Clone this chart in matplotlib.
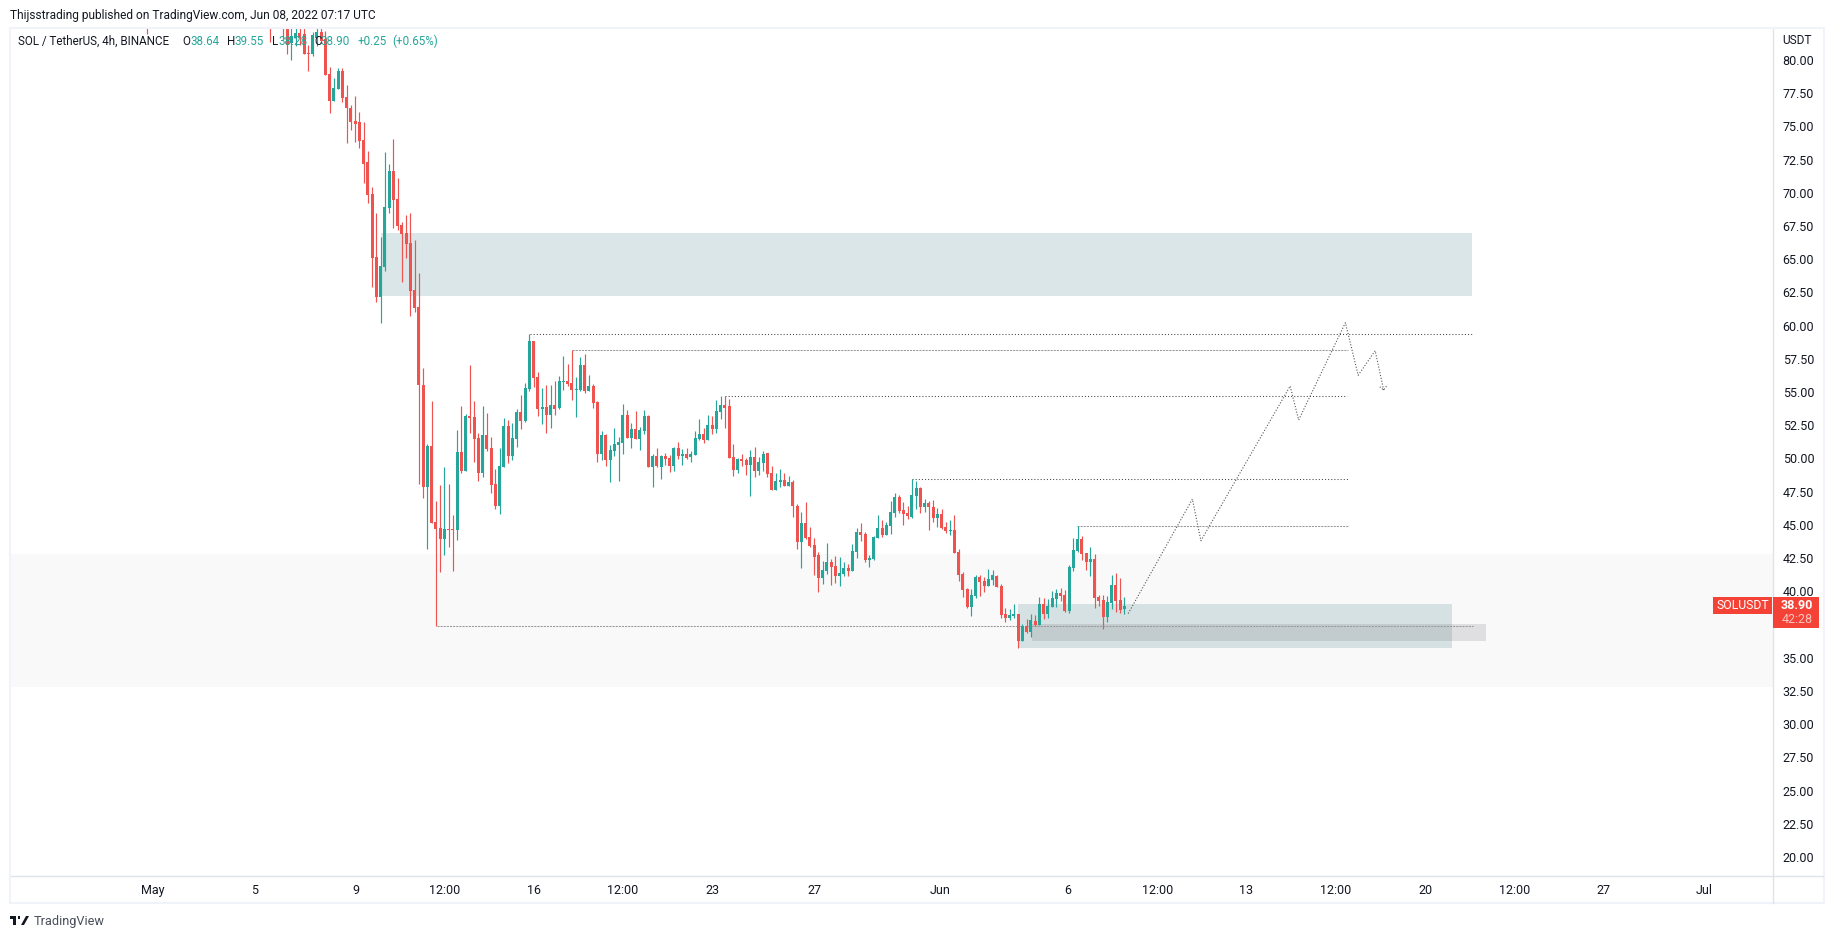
import matplotlib
matplotlib.use("Agg")
import matplotlib.pyplot as plt
from matplotlib.patches import Rectangle, Polygon
import numpy as np

FONT = "Roboto"
plt.rcParams["font.family"] = [FONT, "DejaVu Sans"]

nan = float("nan")
# 4h candles, oldest to newest; nan = candle entirely above the visible price range
opens = [84.0] + [nan]*28 + [83.5, nan, nan, 83.5, 83.0, 81.26, 81.63, 82.03, 81.96, 80.53, 80.45, 81.63, 82.11, 81.56,
 78.95, 76.91, 77.82, 79.17, 77.19, 76.36, 75.41, 75.33, 73.98, 72.29, 69.91, 65.17, 62.18, 64.44, 68.88, 71.64, 69.53,
 67.58, 66.95, 66.22, 62.68, 61.40, 55.53, 47.85, 50.94, 45.22, 44.77, 43.94, 44.69, 44.69, 44.62, 50.49, 49.06, 53.20,
 53.12, 51.54, 48.91, 51.77, 50.79, 48.08, 46.42, 49.36, 52.44, 50.19, 51.47, 53.50, 52.82, 55.23, 58.84, 56.13, 53.72,
 53.87, 53.27, 54.02, 53.80, 55.76, 55.83, 55.68, 55.15, 55.15, 57.04, 55.08, 55.46, 54.25, 50.34, 51.77, 49.89, 50.56,
 51.01, 51.16, 53.27, 51.54, 52.22, 51.47, 52.07, 53.20, 49.36, 50.19,
 49.36, 50.19, 50.04, 49.44, 50.79, 50.19, 50.34, 50.11, 50.26, 51.47, 51.84, 51.39, 52.52, 52.22, 53.50, 54.03, 53.95,
 50.11, 49.13, 49.96, 49.89, 49.51, 50.11, 49.06, 49.66, 50.41, 48.91, 47.63, 48.23, 48.38, 47.93, 48.23, 46.42, 43.71,
 45.15, 44.09, 43.49, 42.74, 41.00, 41.53, 42.21, 41.91, 41.15, 41.31, 41.76, 41.53, 42.96, 44.47, 44.32, 42.36, 42.43,
 44.02, 44.77, 44.24, 44.92, 45.90, 47.10, 46.12, 45.90, 45.60, 47.18, 47.78, 46.35, 46.65, 46.35, 45.52, 45.82, 44.84,
 44.54, 44.62, 42.96, 41.31, 40.18, 38.82, 39.65, 41.08, 40.78, 40.40, 40.85, 41.15, 40.40, 38.29, 37.99, 38.14, 38.29,
 36.26, 37.39, 36.94, 37.77, 37.47, 39.05, 38.29, 38.82, 39.42, 39.87, 39.72, 38.52, 41.76, 43.04, 43.94, 42.89, 42.21,
 42.43, 39.57, 39.35, 38.07, 39.12, 40.48, 39.35, 38.64]
highs = [85.0] + [nan]*28 + [84.0, nan, nan, 84.0, 84.0, 83.5, 83.0, 83.0, 83.0, 81.13, 82.11, 83.0, 83.0, 82.18,
 79.47, 78.65, 79.40, 79.40, 78.12, 76.61, 77.29, 76.06, 75.31, 73.15, 70.46, 68.48, 66.67, 73.07, 72.17, 74.05, 71.12,
 67.80, 68.33, 68.48, 66.45, 63.96, 56.81, 51.09, 54.33, 46.80, 48.00, 49.36, 48.08, 45.74, 52.14, 53.95, 53.35, 57.04,
 54.33, 51.92, 53.95, 53.42, 51.62, 49.21, 50.79, 53.05, 52.90, 52.67, 53.72, 54.78, 55.68, 59.37, 58.84, 56.51, 55.30,
 55.53, 55.53, 55.83, 56.21, 57.71, 57.11, 58.20, 56.13, 57.64, 57.86, 56.28, 55.61, 54.33, 52.07, 51.84, 51.01, 52.29,
 51.62, 54.10, 53.65, 52.67, 53.57, 52.37, 53.65, 53.27, 50.34, 50.79,
 50.26, 50.41, 50.26, 50.87, 51.24, 50.72, 50.79, 50.56, 52.07, 52.97, 52.30, 53.27, 53.20, 54.40, 54.71, 54.71, 54.48,
 51.09, 50.04, 50.34, 50.04, 50.64, 50.87, 50.11, 50.56, 50.41, 49.44, 48.91, 49.21, 48.91, 48.68, 48.38, 46.58,
 45.97, 46.73, 44.84, 44.02, 42.96, 42.28, 43.64, 42.43, 42.66, 42.58, 42.21, 42.06, 43.56, 44.77, 45.15, 44.47, 42.74,
 44.17, 45.75, 45.37, 45.22, 46.80, 47.40, 47.25, 46.73, 46.42, 48.46, 48.31, 47.86, 46.95, 46.80, 46.88, 46.27, 46.20,
 45.22, 45.37, 45.75, 43.19, 41.46, 40.25, 40.18, 41.23, 41.23, 41.08, 41.68, 41.61, 41.23, 40.55, 38.75, 38.67, 39.05,
 38.29, 37.54, 37.92, 38.29, 38.22, 39.57, 39.50, 39.42, 40.03, 40.18, 40.25, 40.10, 41.98, 44.02, 44.92, 44.17, 42.89,
 43.34, 42.81, 39.72, 39.72, 39.65, 41.23, 41.38, 41.00, 39.55]
lows = [81.99] + [nan]*28 + [81.38, nan, nan, 81.56, 80.43, 80.03, 81.05, 81.13, 80.45, 79.17, 80.30, 81.05, 81.30, 78.87,
 76.00, 76.91, 77.82, 76.84, 73.78, 74.73, 73.85, 73.40, 70.76, 69.26, 62.93, 61.81, 60.22, 64.14, 68.51, 67.38, 67.23,
 63.31, 65.12, 60.75, 61.05, 48.08, 47.02, 43.18, 45.14, 37.36, 41.45, 42.73, 43.34, 41.53, 43.86, 48.91, 49.06, 51.92,
 49.73, 48.30, 48.61, 50.56, 47.40, 46.20, 45.82, 49.36, 49.66, 49.89, 50.86, 52.22, 52.75, 55.08, 55.38, 53.20, 52.60,
 51.92, 52.29, 53.27, 53.72, 55.15, 55.46, 54.40, 53.12, 55.08, 54.93, 55.08, 53.80, 49.73, 49.89, 49.43, 48.23, 50.19,
 48.30, 50.34, 51.54, 50.79, 51.47, 50.64, 51.84, 49.36, 47.85, 49.36,
 48.46, 49.51, 48.98, 49.06, 49.96, 49.51, 49.96, 49.74, 50.26, 51.39, 51.17, 51.39, 51.84, 51.92, 52.97, 52.30, 50.04,
 48.68, 48.91, 49.44, 48.76, 47.18, 48.61, 48.76, 49.06, 48.61, 47.63, 47.63, 47.86, 47.93, 47.93, 45.60, 43.19,
 41.76, 43.94, 43.34, 41.23, 39.95, 40.55, 41.31, 40.48, 40.63, 40.40, 41.15, 41.15, 41.53, 42.51, 43.79, 42.21, 41.83,
 42.36, 44.02, 44.09, 44.24, 44.32, 45.60, 45.90, 44.99, 45.45, 45.52, 46.20, 45.90, 45.97, 44.62, 45.22, 44.84, 44.69,
 44.39, 44.24, 42.89, 40.78, 39.57, 38.75, 38.14, 39.50, 39.65, 39.95, 40.40, 40.48, 40.33, 37.99, 37.69, 37.84, 37.99,
 35.73, 36.26, 36.86, 36.56, 37.39, 37.47, 37.92, 37.99, 38.82, 38.82, 39.27, 38.44, 38.37, 41.53, 42.96, 42.36, 41.61,
 41.15, 38.75, 38.90, 37.16, 37.69, 38.67, 38.44, 38.37, 38.28]
closes = [83.0] + [nan]*28 + [83.0, nan, nan, 82.8, 81.13, 81.81, 82.03, 81.63, 80.45, 80.45, 81.86, 82.11, 81.43, 78.87,
 76.91, 77.89, 79.17, 77.14, 76.36, 75.36, 75.18, 73.93, 72.19, 69.86, 65.12, 62.18, 64.49, 68.93, 71.64, 69.48, 67.53,
 66.92, 66.17, 62.63, 61.35, 55.53, 47.85, 50.94, 45.14, 44.69, 43.94, 44.69, 44.62, 44.62, 50.49, 49.06, 53.20, 53.05,
 51.47, 48.91, 51.77, 50.71, 48.00, 46.42, 49.43, 52.44, 50.19, 51.54, 53.50, 52.82, 55.30, 58.84, 56.06, 53.72, 53.87,
 53.27, 54.02, 53.72, 55.83, 55.83, 55.61, 55.15, 55.23, 57.04, 55.08, 55.46, 54.18, 50.34, 51.77, 49.89, 50.64, 51.09,
 51.24, 53.27, 51.54, 52.22, 51.47, 52.14, 53.20, 49.36, 50.19, 49.43,
 50.19, 49.96, 49.44, 50.79, 50.19, 50.34, 50.04, 50.34, 51.54, 51.84, 51.39, 52.52, 52.22, 53.58, 54.03, 53.80, 50.04,
 49.13, 49.96, 49.81, 49.51, 50.11, 49.06, 49.74, 50.34, 48.83, 47.63, 48.31, 48.38, 47.93, 48.23, 46.42, 43.71,
 45.15, 44.02, 43.41, 42.58, 41.00, 41.61, 42.21, 41.83, 41.15, 41.38, 41.76, 41.53, 43.04, 44.47, 44.24, 42.36, 42.51,
 44.09, 44.77, 44.24, 45.00, 45.97, 47.10, 46.05, 45.82, 45.67, 47.25, 47.78, 46.35, 46.65, 46.35, 45.52, 45.82, 44.77,
 44.54, 44.62, 42.89, 41.23, 40.10, 38.80, 39.72, 41.08, 40.70, 40.40, 40.93, 41.23, 40.33, 38.22, 37.99, 38.22, 38.29,
 36.26, 37.39, 36.94, 37.84, 37.47, 39.05, 38.29, 38.90, 39.50, 39.87, 39.65, 38.52, 41.83, 43.11, 43.94, 42.81, 42.21,
 42.43, 39.50, 39.27, 38.07, 39.20, 40.48, 39.27, 38.60, 38.90]

# axis ticks: bar offset relative to the last candle (0)
price_ticks = [20 + 2.5*k for k in range(25)]
date_ticks = [-228.7, -204.7, -180.7, -160, -139, -118, -97, -73, -43.3, -13.4, 7.8, 28.7, 49.8, 70.8, 91.7, 112.7, 136.4]
date_labels = ["May", "5", "9", "12:00", "16", "12:00", "23", "27", "Jun", "6", "12:00", "13", "12:00", "20", "12:00", "27", "Jul"]

# drawings: (left bar, right bar, low price, high price)
supply_zone = (-175, 81.8, 62.23, 66.98)
wide_band = (-262, 152.6, 32.8, 42.8)
demand_zone = (-25, 77.1, 35.72, 39.03)
grey_zone = (-21.7, 85.1, 36.25, 37.53)
# level lines: (price, start bar, end bar, colour, dash pattern)
levels = [(59.37, -139.8, 82, "#444444", (1, 2)),
          (58.20, -130, 52.6, "#999999", (2, 1)),
          (54.67, -94, 52.4, "#444444", (1, 2)),
          (48.43, -50, 52.6, "#444444", (1, 2)),
          (44.89, -11.1, 52.9, "#999999", (2, 1)),
          (37.36, -161.7, 82, "#999999", (2, 1))]
path_bars = [0.9, 16, 18, 39, 41, 52, 55, 59, 61]
path_prices = [38.33, 46.94, 43.81, 55.45, 52.90, 60.22, 56.26, 58.11, 55.15]
arrow_bars = [60.1, 61, 61.9]
arrow_prices = [55.40, 55.15, 55.55]

W, H = 1834, 939
UP, DOWN = "#26a69a", "#ef5350"
fig = plt.figure(figsize=(W/100, H/100), dpi=100, facecolor="white")
L, R, T, B = 11, 1773, 29, 876
ax = fig.add_axes([L/W, 1-B/H, (R-L)/W, (B-T)/H])
ax.set_xlim(-261.95, 152.6)
ax.set_ylim(18.57, 82.33)

def rect(z, color, zo):
    ax.add_patch(Rectangle((z[0], z[2]), z[1]-z[0], z[3]-z[2], facecolor=color, edgecolor="none", zorder=zo))

rect(wide_band, "#f9f9f9", 1)
rect(supply_zone, "#dae6e7", 1.2)
rect(demand_zone, "#d5e1e2", 1.2)
ax.add_patch(Rectangle((grey_zone[0], grey_zone[2]), grey_zone[1]-grey_zone[0], grey_zone[3]-grey_zone[2],
                       facecolor="#787b86", alpha=0.2, edgecolor="none", zorder=1.3))

o, h, l, c = map(np.array, (opens, highs, lows, closes))
ok = ~np.isnan(o)
bars = np.arange(len(o)) - (len(o)-1)
up = c >= o
cols = np.where(up, UP, DOWN)
ax.vlines(bars[ok], l[ok], h[ok], colors=cols[ok], linewidth=0.85, zorder=3)
body_bot = np.minimum(o, c)
body_h = np.maximum(np.abs(c-o), 0.08)
ax.bar(bars[ok], body_h[ok], bottom=body_bot[ok], width=0.72, color=cols[ok], linewidth=0, zorder=3.1)

for p, b0, b1, col, dash in levels:
    ax.plot([b0, b1], [p, p], color=col, lw=0.75, linestyle=(0, dash), zorder=2)
ax.plot(path_bars, path_prices, color="#555555", lw=0.8, linestyle=(0, (1, 1.6)), zorder=3.5)
ax.plot(arrow_bars, arrow_prices, color="#555555", lw=0.8, linestyle=(0, (1, 1.6)), zorder=3.5)

for s in ("top", "left"):
    ax.spines[s].set_visible(False)
for s in ("right", "bottom"):
    ax.spines[s].set_color("#e0e3eb")
    ax.spines[s].set_linewidth(1)

ax.yaxis.tick_right()
ax.set_yticks(price_ticks)
ax.set_yticklabels(["" if v == 37.5 else f"{v:.2f}" for v in price_ticks])
ax.set_xticks(date_ticks)
ax.set_xticklabels(date_labels)
ax.tick_params(axis="y", length=0, pad=7, labelsize=9, labelcolor="#131722")
ax.tick_params(axis="x", length=0, pad=6, labelsize=9, labelcolor="#131722")

def px(x, y):
    return x/W, 1-y/H

# outer frame
fig.add_artist(Rectangle(px(10, 903), 1814/W, 875/H, fill=False, edgecolor="#f0f3fa", linewidth=1.5,
                         transform=fig.transFigure, zorder=5))
fig.add_artist(plt.Line2D([R/W, R/W], [1-903/H, 1-876/H], color="#e0e3eb", lw=1, transform=fig.transFigure, zorder=5))
fig.add_artist(plt.Line2D([R/W, 1823/W], [1-876/H, 1-876/H], color="#e0e3eb", lw=1, transform=fig.transFigure, zorder=5))

def txt(x, y, s, color="#131722", size=9, **kw):
    kw.setdefault("va", "center")
    fig.text(x/W, 1-y/H, s, color=color, fontsize=size, zorder=7, **kw)

txt(9.5, 15, "Thijsstrading published on TradingView.com, Jun 08, 2022 07:17 UTC", size=8.6)
txt(1782, 40, "USDT", size=8.6)

# chart legend
LEG = 8.4
txt(18, 41.5, "SOL / TetherUS, 4h, BINANCE", size=LEG)
for x, s in [(182, "O"), (227, "H"), (272, "L"), (314, "C")]:
    txt(x, 41.5, s, size=LEG)
for x, s in [(190, f"{opens[-1]:.2f}"), (234, f"{highs[-1]:.2f}"), (278, f"{lows[-1]:.2f}"), (320, f"{closes[-1]:.2f}"),
             (358, "+0.25"), (392, "(+0.65%)")]:
    txt(x, 41.5, s, color=UP, size=LEG)

# last-price labels
RED = "#f44336"
fig.add_artist(Rectangle(px(1713, 614), 59/W, 17/H, facecolor=RED, edgecolor="none", transform=fig.transFigure, zorder=6))
fig.add_artist(Rectangle(px(1773, 628), 46/W, 31/H, facecolor=RED, edgecolor="none", transform=fig.transFigure, zorder=6))
txt(1742.5, 605.5, "SOLUSDT", color="white", size=8.8, ha="center")
txt(1797, 605.5, f"{closes[-1]:.2f}", color="white", size=9, ha="center", fontweight="bold")
txt(1797, 619.5, "42:28", color="#fbc4bf", size=9, ha="center")

# TradingView logo and wordmark
ink = "#131722"
for pts in ([(10, 916), (16, 916), (16, 925), (13, 925), (13, 919), (10, 919)],
            [(21, 925), (26, 916), (29, 916), (24, 925)],
            [(18, 916), (20.4, 916), (20.4, 919), (18, 919)]):
    fig.add_artist(Polygon([px(*p) for p in pts], closed=True, facecolor=ink, edgecolor="none",
                           transform=fig.transFigure, zorder=6))
txt(33.5, 921.5, "TradingView", color="#4a4e5a", size=9.2)

fig.savefig("out.png", dpi=100, facecolor="white")
